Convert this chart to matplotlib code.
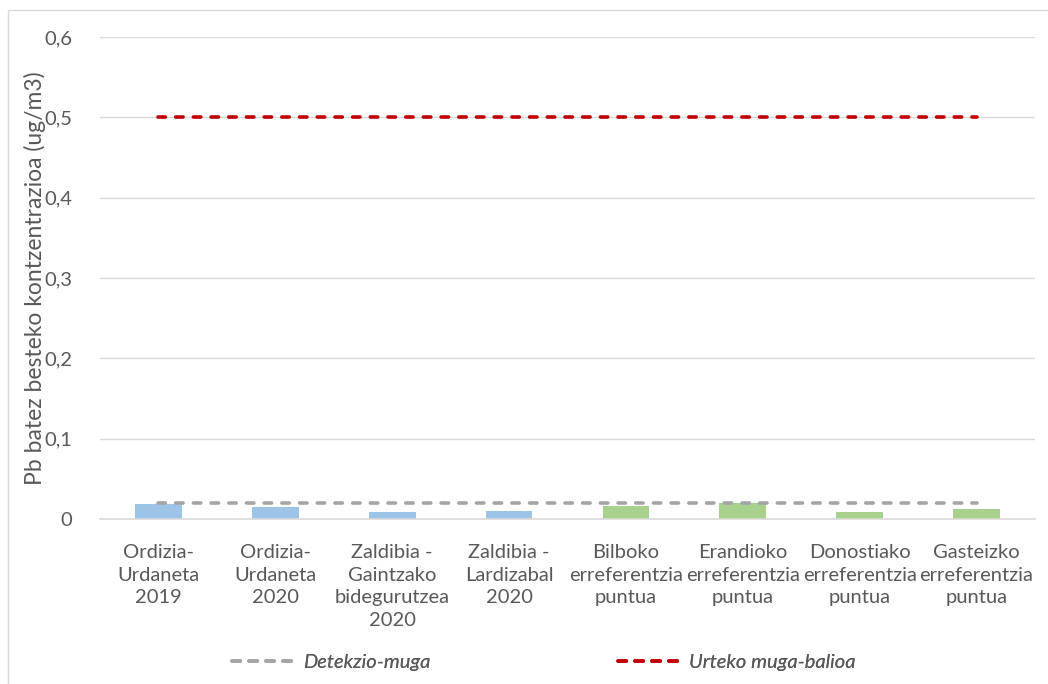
import numpy as np
import matplotlib.pyplot as plt
from matplotlib.lines import Line2D
from matplotlib.patches import Rectangle

plt.rcParams['font.family'] = ['Lato', 'DejaVu Sans']

kokapenak = ['Ordizia-\nUrdaneta\n2019', 'Ordizia-\nUrdaneta\n2020',
             'Zaldibia -\nGaintzako\nbidegurutzea\n2020', 'Zaldibia -\nLardizabal\n2020',
             'Bilboko\nerreferentzia\npuntua', 'Erandioko\nerreferentzia\npuntua',
             'Donostiako\nerreferentzia\npuntua', 'Gasteizko\nerreferentzia\npuntua']
pb_balioak = [0.019, 0.0155, 0.0085, 0.0095, 0.016, 0.020, 0.0085, 0.0128]
kolorea = ['#9DC3E6'] * 4 + ['#A9D18E'] * 4
detekzio_muga = [0.02] * 8
urteko_muga = [0.5] * 8

GRIS = '#A5A5A5'
GORRIA = '#C00000'
TESTUA = '#595959'
marra = dict(lw=2.6, dashes=(2.05, 2.85), dash_capstyle='round')

fig = plt.figure(figsize=(10.48, 6.84), dpi=100)
ax = fig.add_axes([100 / 1048, 1 - 519 / 684, 935 / 1048, 482 / 684])

x = np.arange(len(kokapenak))
ax.bar(x, pb_balioak, width=0.4, color=kolorea, zorder=2)
ax.plot(x, detekzio_muga, color=GRIS, zorder=3, **marra)
ax.plot(x, urteko_muga, color=GORRIA, zorder=3, **marra)

ax.set_xlim(-0.5, len(kokapenak) - 0.5)
ax.set_ylim(0, 0.6)
ax.set_yticks(np.arange(0, 0.61, 0.1))
ax.set_yticklabels(['0', '0,1', '0,2', '0,3', '0,4', '0,5', '0,6'])
ax.set_xticks(x)
ax.set_xticklabels(kokapenak, linespacing=1.4)
ax.tick_params(axis='both', length=0, labelsize=14.5, colors=TESTUA)
ax.tick_params(axis='y', pad=20)
ax.tick_params(axis='x', pad=18)
ax.grid(axis='y', color='#D9D9D9', lw=1)
ax.set_axisbelow(True)
for s in ['top', 'right', 'left']:
    ax.spines[s].set_visible(False)
ax.spines['bottom'].set_color('#D9D9D9')
ax.spines['bottom'].set_linewidth(1.2)
ax.set_ylabel('Pb batez besteko kontzentrazioa (ug/m3)', fontsize=16.5, color=TESTUA)
ax.yaxis.set_label_coords(-0.058, 0.5)

# legenda, bi zati
leg_marra = dict(lw=2.6, dashes=(2.3, 2.4), dash_capstyle='round')
for kol, testua, xpos in [(GRIS, 'Detekzio-muga', 232 / 1048),
                          (GORRIA, 'Urteko muga-balioa', 618 / 1048)]:
    leg = fig.legend([Line2D([], [], color=kol, **leg_marra)], [testua],
                     loc='center left', bbox_to_anchor=(xpos, 1 - 662 / 684),
                     frameon=False, borderpad=0, borderaxespad=0,
                     prop={'style': 'italic', 'size': 14.5}, labelcolor=TESTUA,
                     handlelength=3.2, handletextpad=0.35)
    fig.add_artist(leg)

fig.add_artist(Rectangle((8 / 1048, -0.1), 1.2, 1.1 - 10 / 684, transform=fig.transFigure,
                         fill=False, edgecolor='#D9D9D9', lw=1))

fig.savefig('out.png', dpi=100)
